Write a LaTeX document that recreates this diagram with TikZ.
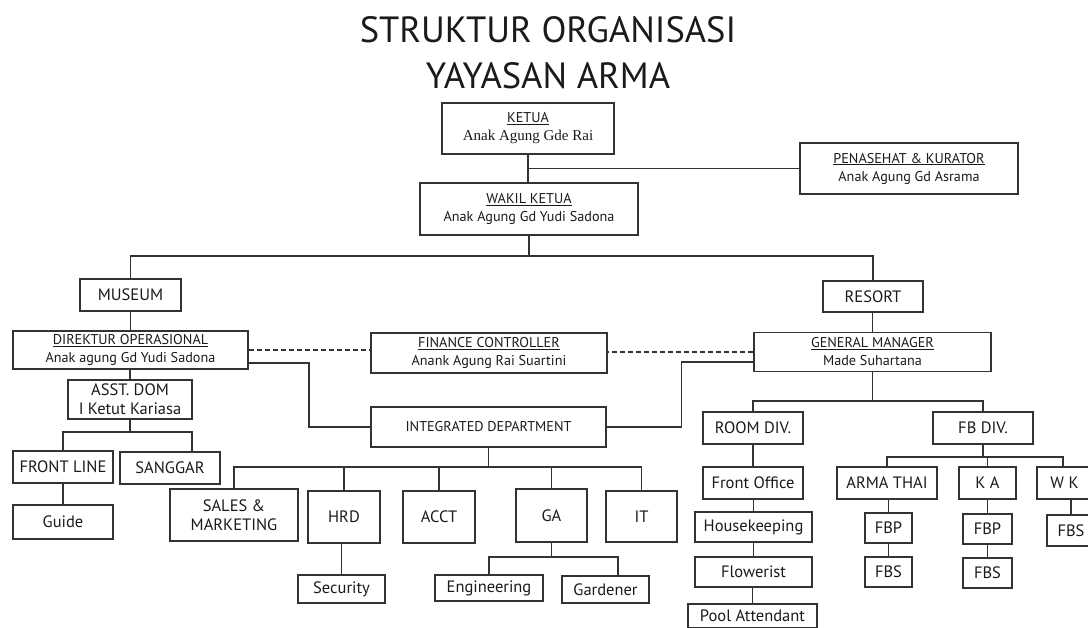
\documentclass[tikz,border=0pt]{standalone}
\usepackage{fontspec}
\setmainfont{PT Sans}
\newfontfamily\serifname{Liberation Serif}
\definecolor{armaline}{HTML}{333333}
\definecolor{armatext}{HTML}{1A1A1A}
\tikzset{
  unit/.style={draw=armaline, line width=1.5pt, inner sep=0pt, align=center,
    text=armatext, font=\fontsize{14.2}{18}\selectfont},
  big/.style={unit, font=\fontsize{16.5}{19}\selectfont},
  wh/.style 2 args={minimum width=#1pt, minimum height=#2pt},
  link/.style={draw=armaline, line width=1.5pt},
}

\begin{document}
\begin{tikzpicture}[x=1pt, y=-1pt]
  \useasboundingbox (0,0) rectangle (1088,628);
  % Title
  \node[text=armatext, font=\fontsize{36.5}{40}\selectfont] (title1) at (548,29.5) {STRUKTUR ORGANISASI};
  \node[text=armatext, font=\fontsize{36.5}{40}\selectfont] (title2) at (548,75.5) {YAYASAN ARMA};

  % Board
  \node[unit, wh={172}{51}] (ketua) at (528,128.5) {\underline{KETUA}\\{\serifname\fontsize{15}{18}\selectfont Anak Agung Gde Rai}};
  \node[unit, wh={218}{52}] (wakil) at (529,209) {\underline{WAKIL KETUA}\\Anak Agung Gd Yudi Sadona};
  \node[unit, wh={218}{51}] (penasehat) at (909,168.5) {\underline{PENASEHAT \& KURATOR}\\Anak Agung Gd Asrama};
  \coordinate (topbus) at (529,256);

  % Museum side
  \node[big, wh={101}{32}] (museum) at (130.5,295) {MUSEUM};
  \node[unit, wh={235}{38}] (direktur) at (130.5,350) {\underline{DIREKTUR OPERASIONAL}\\Anak agung Gd Yudi Sadona};
  \node[big, wh={124}{39}] (asst) at (130,399.5) {ASST. DOM\\I Ketut Kariasa};
  \node[big, wh={100}{32}] (frontline) at (63,467) {FRONT LINE};
  \node[big, wh={100}{32}] (sanggar) at (170,468) {SANGGAR};
  \node[big, wh={100}{34}] (guide) at (63,522) {Guide};
  \coordinate (asstbus) at (130,432);

  % Shared units
  \node[unit, wh={236}{40}] (finance) at (489,353) {\underline{FINANCE CONTROLLER}\\Anank Agung Rai Suartini};
  \node[unit, wh={235}{40}] (integrated) at (488.5,427) {INTEGRATED DEPARTMENT};
  \node[big, wh={128}{52}] (sales) at (234,515) {SALES \&\\MARKETING};
  \node[big, wh={72}{52}] (hrd) at (344,517) {HRD};
  \node[big, wh={72}{52}] (acct) at (439,517) {ACCT};
  \node[big, wh={71}{53}] (ga) at (551.5,515.5) {GA};
  \node[big, wh={71}{51}] (it) at (641.5,516.5) {IT};
  \node[big, wh={87}{28}] (security) at (341.5,589) {Security};
  \node[big, wh={108}{26}] (engineering) at (489,588) {Engineering};
  \node[big, wh={87}{27}] (gardener) at (605.5,589.5) {Gardener};
  \coordinate (intbus) at (486,467);
  \coordinate (gabus) at (551.5,557);

  % Resort side
  \node[big, wh={100}{31}] (resort) at (873,296.5) {RESORT};
  \node[unit, wh={237}{39}] (gm) at (872.5,352) {\underline{GENERAL MANAGER}\\Made Suhartana};
  \node[big, wh={100}{32}] (roomdiv) at (753,428) {ROOM DIV.};
  \node[big, wh={100}{32}] (fbdiv) at (983,428) {FB DIV.};
  \node[big, wh={100}{32}] (frontoffice) at (753,483) {Front Office};
  \node[big, wh={117}{30}] (housekeeping) at (753.5,527) {Housekeeping};
  \node[big, wh={117}{30}] (flowerist) at (753.5,572) {Flowerist};
  \node[big, wh={129}{24}] (pool) at (752.5,616) {Pool Attendant};
  \node[big, wh={100}{32}] (armathai) at (887,483) {ARMA THAI};
  \node[big, wh={57}{32}] (ka) at (987.5,483) {K A};
  \node[big, wh={55}{32}] (wk) at (1064.5,483) {W K};
  \node[big, wh={47}{30}] (fbp1) at (888.5,528) {FBP};
  \node[big, wh={47}{30}] (fbs1) at (888.5,572) {FBS};
  \node[big, wh={49}{30}] (fbp2) at (987.5,529) {FBP};
  \node[big, wh={49}{30}] (fbs2) at (987.5,573) {FBS};
  \node[big, wh={48}{31}] (fbs3) at (1071,530.5) {FBS};
  \coordinate (gmbus) at (872.5,401);
  \coordinate (fbbus) at (983,457);

  % Lines of command
  \draw[link] (ketua.south) -- (ketua.south |- wakil.north);
  \draw[link] (penasehat.west) -- (penasehat.west -| ketua.south);
  \draw[link] (wakil.south) -- (topbus);
  \draw[link] (museum.north) |- (topbus) -| (resort.north);
  \draw[link] (asst.south) -- (asstbus);
  \draw[link] (frontline.north) |- (asstbus) -| ([xshift=22pt]sanggar.north);
  \draw[link] ([yshift=-13pt]direktur.east) -- ++(60,0) |- (integrated.west);
  \draw[link] ([yshift=-10pt]gm.west) -- ++(-72,0) |- (integrated.east);
  \draw[link, dash pattern=on 5pt off 3pt] (direktur.east) -- (direktur.east -| finance.west);
  \draw[link, dash pattern=on 5pt off 3pt] (gm.west) -- (gm.west -| finance.east);
  \draw[link] (integrated.south) -- (integrated.south |- intbus);
  \draw[link] (sales.north) |- (intbus) -| (it.north);
  \draw[link] (ga.south) -- (gabus);
  \draw[link] (engineering.north) |- (gabus) -| ([xshift=12.5pt]gardener.north);
  \draw[link] (gm.south) -- (gmbus);
  \draw[link] (roomdiv.north) |- (gmbus) -| (fbdiv.north);
  \draw[link] (fbdiv.south) -- (fbbus);
  \draw[link] (armathai.north) |- (fbbus) -| ([xshift=-1.5pt]wk.north);
  \foreach \n in {hrd,acct,ga}
    \draw[link] (\n.north) -- (\n.north |- intbus);
  \draw[link] (ka.north) -- (ka.north |- fbbus);
  \foreach \a/\b in {resort/gm, museum/direktur, direktur/asst, frontline/guide,
      hrd/security, roomdiv/frontoffice, frontoffice/housekeeping,
      housekeeping/flowerist, flowerist/pool, armathai/fbp1, fbp1/fbs1,
      ka/fbp2, fbp2/fbs2, wk/fbs3}
    \draw[link] (\b.north) -- (\b.north |- \a.south);
\end{tikzpicture}
\end{document}
